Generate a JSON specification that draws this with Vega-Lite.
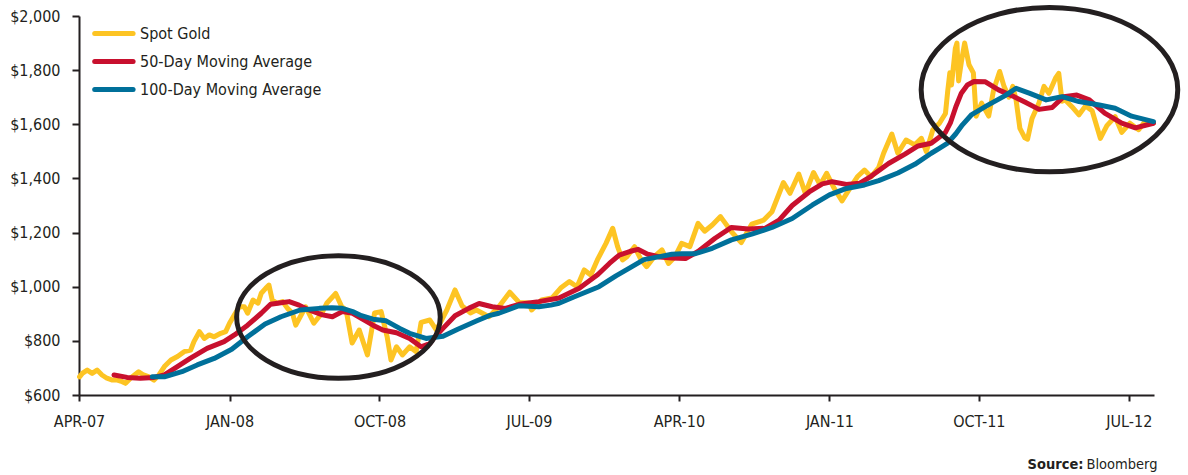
{
  "$schema": "https://vega.github.io/schema/vega-lite/v6.json",
  "width": 1075,
  "height": 379,
  "autosize": {"type": "none"},
  "padding": {"left": 79, "top": 16, "right": 34, "bottom": 80},
  "background": "white",
  "config": {
    "font": "Liberation Sans Narrow, DejaVu Sans Condensed, sans-serif",
    "view": {"stroke": null}
  },
  "datasets": {
    "prices": [
      {"series": "Spot Gold", "date": "2007-04-02", "price": 667},
      {"series": "Spot Gold", "date": "2007-04-07", "price": 680},
      {"series": "Spot Gold", "date": "2007-04-16", "price": 692},
      {"series": "Spot Gold", "date": "2007-04-25", "price": 680},
      {"series": "Spot Gold", "date": "2007-05-04", "price": 692},
      {"series": "Spot Gold", "date": "2007-05-13", "price": 674},
      {"series": "Spot Gold", "date": "2007-05-22", "price": 662},
      {"series": "Spot Gold", "date": "2007-06-01", "price": 655},
      {"series": "Spot Gold", "date": "2007-06-10", "price": 655},
      {"series": "Spot Gold", "date": "2007-06-19", "price": 649},
      {"series": "Spot Gold", "date": "2007-06-25", "price": 643},
      {"series": "Spot Gold", "date": "2007-07-04", "price": 662},
      {"series": "Spot Gold", "date": "2007-07-19", "price": 686},
      {"series": "Spot Gold", "date": "2007-07-28", "price": 674},
      {"series": "Spot Gold", "date": "2007-08-07", "price": 667},
      {"series": "Spot Gold", "date": "2007-08-16", "price": 655},
      {"series": "Spot Gold", "date": "2007-08-25", "price": 674},
      {"series": "Spot Gold", "date": "2007-09-04", "price": 705},
      {"series": "Spot Gold", "date": "2007-09-16", "price": 729},
      {"series": "Spot Gold", "date": "2007-09-28", "price": 742},
      {"series": "Spot Gold", "date": "2007-10-10", "price": 760},
      {"series": "Spot Gold", "date": "2007-10-22", "price": 766},
      {"series": "Spot Gold", "date": "2007-10-28", "price": 797},
      {"series": "Spot Gold", "date": "2007-11-07", "price": 834},
      {"series": "Spot Gold", "date": "2007-11-16", "price": 809},
      {"series": "Spot Gold", "date": "2007-11-25", "price": 822},
      {"series": "Spot Gold", "date": "2007-12-04", "price": 815},
      {"series": "Spot Gold", "date": "2007-12-16", "price": 828},
      {"series": "Spot Gold", "date": "2007-12-25", "price": 834},
      {"series": "Spot Gold", "date": "2008-01-01", "price": 865},
      {"series": "Spot Gold", "date": "2008-01-10", "price": 896},
      {"series": "Spot Gold", "date": "2008-01-19", "price": 926},
      {"series": "Spot Gold", "date": "2008-01-28", "price": 926},
      {"series": "Spot Gold", "date": "2008-02-03", "price": 902},
      {"series": "Spot Gold", "date": "2008-02-13", "price": 951},
      {"series": "Spot Gold", "date": "2008-02-22", "price": 939},
      {"series": "Spot Gold", "date": "2008-02-28", "price": 976},
      {"series": "Spot Gold", "date": "2008-03-07", "price": 994},
      {"series": "Spot Gold", "date": "2008-03-13", "price": 1006},
      {"series": "Spot Gold", "date": "2008-03-19", "price": 951},
      {"series": "Spot Gold", "date": "2008-03-28", "price": 939},
      {"series": "Spot Gold", "date": "2008-04-07", "price": 945},
      {"series": "Spot Gold", "date": "2008-04-16", "price": 920},
      {"series": "Spot Gold", "date": "2008-04-25", "price": 902},
      {"series": "Spot Gold", "date": "2008-05-01", "price": 858},
      {"series": "Spot Gold", "date": "2008-05-19", "price": 926},
      {"series": "Spot Gold", "date": "2008-06-03", "price": 865},
      {"series": "Spot Gold", "date": "2008-06-18", "price": 903},
      {"series": "Spot Gold", "date": "2008-06-27", "price": 940},
      {"series": "Spot Gold", "date": "2008-07-13", "price": 975},
      {"series": "Spot Gold", "date": "2008-07-24", "price": 926},
      {"series": "Spot Gold", "date": "2008-08-01", "price": 914},
      {"series": "Spot Gold", "date": "2008-08-12", "price": 792},
      {"series": "Spot Gold", "date": "2008-08-25", "price": 840},
      {"series": "Spot Gold", "date": "2008-09-09", "price": 748},
      {"series": "Spot Gold", "date": "2008-09-22", "price": 903},
      {"series": "Spot Gold", "date": "2008-10-04", "price": 908},
      {"series": "Spot Gold", "date": "2008-10-15", "price": 815},
      {"series": "Spot Gold", "date": "2008-10-22", "price": 729},
      {"series": "Spot Gold", "date": "2008-11-01", "price": 778},
      {"series": "Spot Gold", "date": "2008-11-12", "price": 748},
      {"series": "Spot Gold", "date": "2008-11-25", "price": 778},
      {"series": "Spot Gold", "date": "2008-12-07", "price": 760},
      {"series": "Spot Gold", "date": "2008-12-16", "price": 868},
      {"series": "Spot Gold", "date": "2009-01-01", "price": 877},
      {"series": "Spot Gold", "date": "2009-01-13", "price": 840},
      {"series": "Spot Gold", "date": "2009-02-01", "price": 914},
      {"series": "Spot Gold", "date": "2009-02-16", "price": 988},
      {"series": "Spot Gold", "date": "2009-03-01", "price": 929},
      {"series": "Spot Gold", "date": "2009-03-16", "price": 903},
      {"series": "Spot Gold", "date": "2009-03-27", "price": 914},
      {"series": "Spot Gold", "date": "2009-04-19", "price": 889},
      {"series": "Spot Gold", "date": "2009-05-07", "price": 926},
      {"series": "Spot Gold", "date": "2009-05-27", "price": 980},
      {"series": "Spot Gold", "date": "2009-06-13", "price": 942},
      {"series": "Spot Gold", "date": "2009-07-01", "price": 940},
      {"series": "Spot Gold", "date": "2009-07-06", "price": 914},
      {"series": "Spot Gold", "date": "2009-07-24", "price": 951},
      {"series": "Spot Gold", "date": "2009-08-12", "price": 958},
      {"series": "Spot Gold", "date": "2009-08-28", "price": 995},
      {"series": "Spot Gold", "date": "2009-09-13", "price": 1019},
      {"series": "Spot Gold", "date": "2009-09-27", "price": 1000},
      {"series": "Spot Gold", "date": "2009-10-10", "price": 1062},
      {"series": "Spot Gold", "date": "2009-10-22", "price": 1043},
      {"series": "Spot Gold", "date": "2009-11-03", "price": 1099},
      {"series": "Spot Gold", "date": "2009-11-19", "price": 1161},
      {"series": "Spot Gold", "date": "2009-12-01", "price": 1216},
      {"series": "Spot Gold", "date": "2009-12-10", "price": 1148},
      {"series": "Spot Gold", "date": "2009-12-19", "price": 1099},
      {"series": "Spot Gold", "date": "2009-12-27", "price": 1111},
      {"series": "Spot Gold", "date": "2010-01-10", "price": 1148},
      {"series": "Spot Gold", "date": "2010-01-22", "price": 1099},
      {"series": "Spot Gold", "date": "2010-02-01", "price": 1074},
      {"series": "Spot Gold", "date": "2010-02-15", "price": 1111},
      {"series": "Spot Gold", "date": "2010-03-01", "price": 1136},
      {"series": "Spot Gold", "date": "2010-03-13", "price": 1086},
      {"series": "Spot Gold", "date": "2010-03-25", "price": 1111},
      {"series": "Spot Gold", "date": "2010-04-06", "price": 1160},
      {"series": "Spot Gold", "date": "2010-04-21", "price": 1148},
      {"series": "Spot Gold", "date": "2010-05-06", "price": 1234},
      {"series": "Spot Gold", "date": "2010-05-18", "price": 1205},
      {"series": "Spot Gold", "date": "2010-06-01", "price": 1228},
      {"series": "Spot Gold", "date": "2010-06-16", "price": 1259},
      {"series": "Spot Gold", "date": "2010-06-25", "price": 1234},
      {"series": "Spot Gold", "date": "2010-07-06", "price": 1203},
      {"series": "Spot Gold", "date": "2010-07-24", "price": 1163},
      {"series": "Spot Gold", "date": "2010-08-12", "price": 1231},
      {"series": "Spot Gold", "date": "2010-09-03", "price": 1246},
      {"series": "Spot Gold", "date": "2010-09-18", "price": 1277},
      {"series": "Spot Gold", "date": "2010-10-09", "price": 1385},
      {"series": "Spot Gold", "date": "2010-10-21", "price": 1345},
      {"series": "Spot Gold", "date": "2010-11-06", "price": 1416},
      {"series": "Spot Gold", "date": "2010-11-18", "price": 1345},
      {"series": "Spot Gold", "date": "2010-12-03", "price": 1422},
      {"series": "Spot Gold", "date": "2010-12-15", "price": 1376},
      {"series": "Spot Gold", "date": "2010-12-27", "price": 1419},
      {"series": "Spot Gold", "date": "2011-01-09", "price": 1366},
      {"series": "Spot Gold", "date": "2011-01-24", "price": 1317},
      {"series": "Spot Gold", "date": "2011-02-09", "price": 1369},
      {"series": "Spot Gold", "date": "2011-02-21", "price": 1406},
      {"series": "Spot Gold", "date": "2011-03-06", "price": 1431},
      {"series": "Spot Gold", "date": "2011-03-18", "price": 1406},
      {"series": "Spot Gold", "date": "2011-04-01", "price": 1440},
      {"series": "Spot Gold", "date": "2011-04-10", "price": 1493},
      {"series": "Spot Gold", "date": "2011-04-25", "price": 1564},
      {"series": "Spot Gold", "date": "2011-05-06", "price": 1493},
      {"series": "Spot Gold", "date": "2011-05-21", "price": 1542},
      {"series": "Spot Gold", "date": "2011-06-06", "price": 1524},
      {"series": "Spot Gold", "date": "2011-06-18", "price": 1548},
      {"series": "Spot Gold", "date": "2011-06-27", "price": 1499},
      {"series": "Spot Gold", "date": "2011-07-09", "price": 1580},
      {"series": "Spot Gold", "date": "2011-07-21", "price": 1604},
      {"series": "Spot Gold", "date": "2011-08-01", "price": 1640},
      {"series": "Spot Gold", "date": "2011-08-05", "price": 1720},
      {"series": "Spot Gold", "date": "2011-08-09", "price": 1790},
      {"series": "Spot Gold", "date": "2011-08-12", "price": 1745},
      {"series": "Spot Gold", "date": "2011-08-19", "price": 1880},
      {"series": "Spot Gold", "date": "2011-08-22", "price": 1900},
      {"series": "Spot Gold", "date": "2011-08-25", "price": 1760},
      {"series": "Spot Gold", "date": "2011-08-30", "price": 1830},
      {"series": "Spot Gold", "date": "2011-09-05", "price": 1900},
      {"series": "Spot Gold", "date": "2011-09-13", "price": 1820},
      {"series": "Spot Gold", "date": "2011-09-21", "price": 1790},
      {"series": "Spot Gold", "date": "2011-09-26", "price": 1630},
      {"series": "Spot Gold", "date": "2011-10-06", "price": 1678},
      {"series": "Spot Gold", "date": "2011-10-19", "price": 1630},
      {"series": "Spot Gold", "date": "2011-10-28", "price": 1727},
      {"series": "Spot Gold", "date": "2011-11-08", "price": 1795},
      {"series": "Spot Gold", "date": "2011-11-16", "price": 1740},
      {"series": "Spot Gold", "date": "2011-11-25", "price": 1700},
      {"series": "Spot Gold", "date": "2011-12-02", "price": 1740},
      {"series": "Spot Gold", "date": "2011-12-08", "price": 1690},
      {"series": "Spot Gold", "date": "2011-12-15", "price": 1585},
      {"series": "Spot Gold", "date": "2011-12-24", "price": 1550},
      {"series": "Spot Gold", "date": "2011-12-29", "price": 1545},
      {"series": "Spot Gold", "date": "2012-01-06", "price": 1620},
      {"series": "Spot Gold", "date": "2012-01-19", "price": 1680},
      {"series": "Spot Gold", "date": "2012-01-28", "price": 1740},
      {"series": "Spot Gold", "date": "2012-02-06", "price": 1715},
      {"series": "Spot Gold", "date": "2012-02-18", "price": 1770},
      {"series": "Spot Gold", "date": "2012-02-24", "price": 1788},
      {"series": "Spot Gold", "date": "2012-03-01", "price": 1685},
      {"series": "Spot Gold", "date": "2012-03-07", "price": 1690},
      {"series": "Spot Gold", "date": "2012-03-19", "price": 1665},
      {"series": "Spot Gold", "date": "2012-04-01", "price": 1635},
      {"series": "Spot Gold", "date": "2012-04-13", "price": 1668},
      {"series": "Spot Gold", "date": "2012-04-25", "price": 1650},
      {"series": "Spot Gold", "date": "2012-05-10", "price": 1548},
      {"series": "Spot Gold", "date": "2012-05-22", "price": 1595},
      {"series": "Spot Gold", "date": "2012-06-06", "price": 1628},
      {"series": "Spot Gold", "date": "2012-06-18", "price": 1570},
      {"series": "Spot Gold", "date": "2012-07-03", "price": 1604},
      {"series": "Spot Gold", "date": "2012-07-19", "price": 1580},
      {"series": "Spot Gold", "date": "2012-08-01", "price": 1614},
      {"series": "Spot Gold", "date": "2012-08-15", "price": 1605},

      {"series": "50-Day Moving Average", "date": "2007-06-04", "price": 674},
      {"series": "50-Day Moving Average", "date": "2007-06-28", "price": 665},
      {"series": "50-Day Moving Average", "date": "2007-07-22", "price": 662},
      {"series": "50-Day Moving Average", "date": "2007-08-16", "price": 665},
      {"series": "50-Day Moving Average", "date": "2007-09-04", "price": 674},
      {"series": "50-Day Moving Average", "date": "2007-09-27", "price": 704},
      {"series": "50-Day Moving Average", "date": "2007-10-21", "price": 735},
      {"series": "50-Day Moving Average", "date": "2007-11-21", "price": 772},
      {"series": "50-Day Moving Average", "date": "2007-12-22", "price": 797},
      {"series": "50-Day Moving Average", "date": "2008-01-10", "price": 822},
      {"series": "50-Day Moving Average", "date": "2008-02-03", "price": 858},
      {"series": "50-Day Moving Average", "date": "2008-02-28", "price": 902},
      {"series": "50-Day Moving Average", "date": "2008-03-16", "price": 935},
      {"series": "50-Day Moving Average", "date": "2008-04-01", "price": 940},
      {"series": "50-Day Moving Average", "date": "2008-04-19", "price": 945},
      {"series": "50-Day Moving Average", "date": "2008-05-07", "price": 932},
      {"series": "50-Day Moving Average", "date": "2008-05-25", "price": 914},
      {"series": "50-Day Moving Average", "date": "2008-06-19", "price": 896},
      {"series": "50-Day Moving Average", "date": "2008-07-07", "price": 889},
      {"series": "50-Day Moving Average", "date": "2008-07-25", "price": 908},
      {"series": "50-Day Moving Average", "date": "2008-08-13", "price": 902},
      {"series": "50-Day Moving Average", "date": "2008-08-31", "price": 880},
      {"series": "50-Day Moving Average", "date": "2008-09-19", "price": 858},
      {"series": "50-Day Moving Average", "date": "2008-10-07", "price": 840},
      {"series": "50-Day Moving Average", "date": "2008-11-01", "price": 830},
      {"series": "50-Day Moving Average", "date": "2008-11-25", "price": 809},
      {"series": "50-Day Moving Average", "date": "2008-12-16", "price": 778},
      {"series": "50-Day Moving Average", "date": "2009-01-01", "price": 790},
      {"series": "50-Day Moving Average", "date": "2009-01-06", "price": 805},
      {"series": "50-Day Moving Average", "date": "2009-01-25", "price": 846},
      {"series": "50-Day Moving Average", "date": "2009-02-16", "price": 893},
      {"series": "50-Day Moving Average", "date": "2009-03-13", "price": 920},
      {"series": "50-Day Moving Average", "date": "2009-04-01", "price": 938},
      {"series": "50-Day Moving Average", "date": "2009-04-25", "price": 926},
      {"series": "50-Day Moving Average", "date": "2009-05-19", "price": 920},
      {"series": "50-Day Moving Average", "date": "2009-06-13", "price": 935},
      {"series": "50-Day Moving Average", "date": "2009-07-19", "price": 945},
      {"series": "50-Day Moving Average", "date": "2009-08-25", "price": 958},
      {"series": "50-Day Moving Average", "date": "2009-10-01", "price": 994},
      {"series": "50-Day Moving Average", "date": "2009-11-04", "price": 1045},
      {"series": "50-Day Moving Average", "date": "2009-11-25", "price": 1086},
      {"series": "50-Day Moving Average", "date": "2009-12-13", "price": 1117},
      {"series": "50-Day Moving Average", "date": "2010-01-01", "price": 1130},
      {"series": "50-Day Moving Average", "date": "2010-01-16", "price": 1138},
      {"series": "50-Day Moving Average", "date": "2010-02-03", "price": 1120},
      {"series": "50-Day Moving Average", "date": "2010-02-25", "price": 1110},
      {"series": "50-Day Moving Average", "date": "2010-03-19", "price": 1106},
      {"series": "50-Day Moving Average", "date": "2010-04-13", "price": 1104},
      {"series": "50-Day Moving Average", "date": "2010-05-06", "price": 1130},
      {"series": "50-Day Moving Average", "date": "2010-06-06", "price": 1179},
      {"series": "50-Day Moving Average", "date": "2010-07-06", "price": 1219},
      {"series": "50-Day Moving Average", "date": "2010-08-06", "price": 1213},
      {"series": "50-Day Moving Average", "date": "2010-09-06", "price": 1216},
      {"series": "50-Day Moving Average", "date": "2010-10-01", "price": 1246},
      {"series": "50-Day Moving Average", "date": "2010-10-25", "price": 1300},
      {"series": "50-Day Moving Average", "date": "2010-11-25", "price": 1350},
      {"series": "50-Day Moving Average", "date": "2010-12-19", "price": 1380},
      {"series": "50-Day Moving Average", "date": "2011-01-06", "price": 1388},
      {"series": "50-Day Moving Average", "date": "2011-02-01", "price": 1378},
      {"series": "50-Day Moving Average", "date": "2011-02-25", "price": 1382},
      {"series": "50-Day Moving Average", "date": "2011-03-18", "price": 1408},
      {"series": "50-Day Moving Average", "date": "2011-04-19", "price": 1455},
      {"series": "50-Day Moving Average", "date": "2011-05-19", "price": 1490},
      {"series": "50-Day Moving Average", "date": "2011-06-12", "price": 1520},
      {"series": "50-Day Moving Average", "date": "2011-07-06", "price": 1530},
      {"series": "50-Day Moving Average", "date": "2011-08-01", "price": 1570},
      {"series": "50-Day Moving Average", "date": "2011-08-10", "price": 1605},
      {"series": "50-Day Moving Average", "date": "2011-08-20", "price": 1665},
      {"series": "50-Day Moving Average", "date": "2011-08-30", "price": 1715},
      {"series": "50-Day Moving Average", "date": "2011-09-10", "price": 1745},
      {"series": "50-Day Moving Average", "date": "2011-09-22", "price": 1758},
      {"series": "50-Day Moving Average", "date": "2011-10-13", "price": 1757},
      {"series": "50-Day Moving Average", "date": "2011-11-06", "price": 1727},
      {"series": "50-Day Moving Average", "date": "2011-12-01", "price": 1705},
      {"series": "50-Day Moving Average", "date": "2011-12-24", "price": 1682},
      {"series": "50-Day Moving Average", "date": "2012-01-19", "price": 1655},
      {"series": "50-Day Moving Average", "date": "2012-02-12", "price": 1662},
      {"series": "50-Day Moving Average", "date": "2012-03-04", "price": 1702},
      {"series": "50-Day Moving Average", "date": "2012-03-28", "price": 1708},
      {"series": "50-Day Moving Average", "date": "2012-04-20", "price": 1690},
      {"series": "50-Day Moving Average", "date": "2012-05-18", "price": 1641},
      {"series": "50-Day Moving Average", "date": "2012-06-18", "price": 1604},
      {"series": "50-Day Moving Average", "date": "2012-07-13", "price": 1587},
      {"series": "50-Day Moving Average", "date": "2012-08-15", "price": 1604},

      {"series": "100-Day Moving Average", "date": "2007-08-13", "price": 667},
      {"series": "100-Day Moving Average", "date": "2007-09-04", "price": 667},
      {"series": "100-Day Moving Average", "date": "2007-10-06", "price": 686},
      {"series": "100-Day Moving Average", "date": "2007-11-03", "price": 711},
      {"series": "100-Day Moving Average", "date": "2007-12-04", "price": 735},
      {"series": "100-Day Moving Average", "date": "2008-01-05", "price": 769},
      {"series": "100-Day Moving Average", "date": "2008-02-03", "price": 815},
      {"series": "100-Day Moving Average", "date": "2008-03-06", "price": 862},
      {"series": "100-Day Moving Average", "date": "2008-04-04", "price": 889},
      {"series": "100-Day Moving Average", "date": "2008-05-09", "price": 914},
      {"series": "100-Day Moving Average", "date": "2008-06-13", "price": 920},
      {"series": "100-Day Moving Average", "date": "2008-07-06", "price": 922},
      {"series": "100-Day Moving Average", "date": "2008-07-25", "price": 920},
      {"series": "100-Day Moving Average", "date": "2008-08-13", "price": 908},
      {"series": "100-Day Moving Average", "date": "2008-08-29", "price": 893},
      {"series": "100-Day Moving Average", "date": "2008-09-19", "price": 880},
      {"series": "100-Day Moving Average", "date": "2008-10-13", "price": 874},
      {"series": "100-Day Moving Average", "date": "2008-11-07", "price": 846},
      {"series": "100-Day Moving Average", "date": "2008-11-25", "price": 828},
      {"series": "100-Day Moving Average", "date": "2008-12-25", "price": 809},
      {"series": "100-Day Moving Average", "date": "2009-01-25", "price": 817},
      {"series": "100-Day Moving Average", "date": "2009-02-21", "price": 843},
      {"series": "100-Day Moving Average", "date": "2009-03-28", "price": 874},
      {"series": "100-Day Moving Average", "date": "2009-04-19", "price": 893},
      {"series": "100-Day Moving Average", "date": "2009-05-07", "price": 902},
      {"series": "100-Day Moving Average", "date": "2009-06-13", "price": 930},
      {"series": "100-Day Moving Average", "date": "2009-07-19", "price": 926},
      {"series": "100-Day Moving Average", "date": "2009-08-10", "price": 932},
      {"series": "100-Day Moving Average", "date": "2009-08-25", "price": 939},
      {"series": "100-Day Moving Average", "date": "2009-09-21", "price": 962},
      {"series": "100-Day Moving Average", "date": "2009-11-06", "price": 1000},
      {"series": "100-Day Moving Average", "date": "2009-12-07", "price": 1040},
      {"series": "100-Day Moving Average", "date": "2010-01-06", "price": 1075},
      {"series": "100-Day Moving Average", "date": "2010-01-27", "price": 1100},
      {"series": "100-Day Moving Average", "date": "2010-02-25", "price": 1111},
      {"series": "100-Day Moving Average", "date": "2010-03-19", "price": 1120},
      {"series": "100-Day Moving Average", "date": "2010-04-06", "price": 1122},
      {"series": "100-Day Moving Average", "date": "2010-05-01", "price": 1122},
      {"series": "100-Day Moving Average", "date": "2010-06-01", "price": 1142},
      {"series": "100-Day Moving Average", "date": "2010-07-06", "price": 1173},
      {"series": "100-Day Moving Average", "date": "2010-08-12", "price": 1194},
      {"series": "100-Day Moving Average", "date": "2010-09-18", "price": 1219},
      {"series": "100-Day Moving Average", "date": "2010-10-25", "price": 1252},
      {"series": "100-Day Moving Average", "date": "2010-12-01", "price": 1302},
      {"series": "100-Day Moving Average", "date": "2011-01-01", "price": 1339},
      {"series": "100-Day Moving Average", "date": "2011-02-01", "price": 1363},
      {"series": "100-Day Moving Average", "date": "2011-03-06", "price": 1376},
      {"series": "100-Day Moving Average", "date": "2011-04-01", "price": 1392},
      {"series": "100-Day Moving Average", "date": "2011-05-06", "price": 1420},
      {"series": "100-Day Moving Average", "date": "2011-06-06", "price": 1452},
      {"series": "100-Day Moving Average", "date": "2011-07-06", "price": 1493},
      {"series": "100-Day Moving Average", "date": "2011-07-20", "price": 1510},
      {"series": "100-Day Moving Average", "date": "2011-08-05", "price": 1530},
      {"series": "100-Day Moving Average", "date": "2011-08-20", "price": 1565},
      {"series": "100-Day Moving Average", "date": "2011-09-01", "price": 1598},
      {"series": "100-Day Moving Average", "date": "2011-09-18", "price": 1636},
      {"series": "100-Day Moving Average", "date": "2011-10-15", "price": 1668},
      {"series": "100-Day Moving Average", "date": "2011-11-18", "price": 1706},
      {"series": "100-Day Moving Average", "date": "2011-12-08", "price": 1733},
      {"series": "100-Day Moving Average", "date": "2012-01-01", "price": 1715},
      {"series": "100-Day Moving Average", "date": "2012-02-01", "price": 1690},
      {"series": "100-Day Moving Average", "date": "2012-03-01", "price": 1702},
      {"series": "100-Day Moving Average", "date": "2012-04-01", "price": 1684},
      {"series": "100-Day Moving Average", "date": "2012-05-08", "price": 1671},
      {"series": "100-Day Moving Average", "date": "2012-06-06", "price": 1659},
      {"series": "100-Day Moving Average", "date": "2012-07-06", "price": 1630},
      {"series": "100-Day Moving Average", "date": "2012-08-15", "price": 1610}
    ],
    "rings": [
      {"ring": "2008", "date": "2008-07-18", "price": 888},
      {"ring": "2011", "date": "2012-02-07", "price": 1728}
    ]
  },
  "encoding": {
    "x": {
      "field": "date",
      "type": "temporal",
      "scale": {
        "type": "utc",
        "domain": [
          {"year": 2007, "month": 4, "date": 1, "utc": true},
          {"year": 2012, "month": 8, "date": 16, "utc": true}
        ]
      },
      "axis": {
        "values": [
          {"year": 2007, "month": 4, "date": 1, "utc": true},
          {"year": 2008, "month": 1, "date": 1, "utc": true},
          {"year": 2008, "month": 10, "date": 1, "utc": true},
          {"year": 2009, "month": 7, "date": 1, "utc": true},
          {"year": 2010, "month": 4, "date": 1, "utc": true},
          {"year": 2011, "month": 1, "date": 1, "utc": true},
          {"year": 2011, "month": 10, "date": 1, "utc": true},
          {"year": 2012, "month": 7, "date": 1, "utc": true}
        ],
        "labelExpr": "upper(utcFormat(datum.value, '%b-%y'))",
        "grid": false,
        "domainColor": "#231f20",
        "domainWidth": 2,
        "tickColor": "#231f20",
        "tickWidth": 2,
        "tickSize": 6,
        "labelFontSize": 16,
        "labelColor": "#231f20",
        "labelPadding": 12,
        "labelFlush": false,
        "labelOverlap": false,
        "title": "Bloomberg",
        "titleX": 1078,
        "titleY": 73,
        "titleAlign": "right",
        "titleBaseline": "alphabetic",
        "titleFontWeight": "normal",
        "titleFontSize": 14.5,
        "titleColor": "#231f20"
      }
    },
    "y": {
      "field": "price",
      "type": "quantitative",
      "scale": {"domain": [600, 2000], "nice": false, "zero": false},
      "axis": {
        "values": [600, 800, 1000, 1200, 1400, 1600, 1800, 2000],
        "format": "$,.0f",
        "grid": false,
        "domainColor": "#231f20",
        "domainWidth": 2,
        "tickColor": "#231f20",
        "tickWidth": 2,
        "tickSize": 7,
        "labelFontSize": 16,
        "labelColor": "#231f20",
        "labelPadding": 12,
        "labelFlush": false,
        "labelOverlap": false,
        "title": "Source:",
        "titleAngle": 0,
        "titleX": 1004,
        "titleY": 452,
        "titleAlign": "right",
        "titleBaseline": "alphabetic",
        "titleFontWeight": "bold",
        "titleFontSize": 14.5,
        "titleColor": "#231f20"
      }
    }
  },
  "layer": [
    {
      "data": {"name": "prices"},
      "transform": [{"filter": "datum.series === 'Spot Gold'"}],
      "mark": {"type": "line", "strokeWidth": 5, "strokeJoin": "round", "strokeCap": "round"},
      "encoding": {
        "color": {
          "field": "series",
          "type": "nominal",
          "scale": {
            "domain": ["Spot Gold", "50-Day Moving Average", "100-Day Moving Average"],
            "range": ["#FDC423", "#C8102E", "#00709A"]
          },
          "legend": {
            "title": null,
            "orient": "none",
            "legendX": 26.4,
            "legendY": 9,
            "direction": "vertical",
            "padding": 0,
            "symbolType": "M-3.2,0H3.2",
            "symbolSize": 144,
            "symbolStrokeWidth": 5,
            "symbolOffset": 0,
            "labelFontSize": 16,
            "labelColor": "#231f20",
            "labelOffset": 17.6,
            "labelLimit": 0,
            "rowPadding": 7,
            "encode": {"symbols": {"update": {"strokeCap": {"value": "round"}}}}
          }
        }
      }
    },
    {
      "data": {"name": "prices"},
      "transform": [{"filter": "datum.series === '50-Day Moving Average'"}],
      "mark": {"type": "line", "strokeWidth": 5, "strokeJoin": "round", "strokeCap": "round"},
      "encoding": {"color": {"field": "series", "type": "nominal"}}
    },
    {
      "data": {"name": "prices"},
      "transform": [{"filter": "datum.series === '100-Day Moving Average'"}],
      "mark": {"type": "line", "strokeWidth": 5, "strokeJoin": "round", "strokeCap": "round"},
      "encoding": {"color": {"field": "series", "type": "nominal"}}
    },
    {
      "data": {"name": "rings"},
      "transform": [{"filter": "datum.ring === '2008'"}],
      "mark": {
        "type": "point",
        "shape": "M1,0C1,0.3325,0.5523,0.602,0,0.602C-0.5523,0.602,-1,0.3325,-1,0C-1,-0.3325,-0.5523,-0.602,0,-0.602C0.5523,-0.602,1,-0.3325,1,0Z",
        "size": 41452,
        "filled": false,
        "stroke": "#231f20",
        "strokeWidth": 5,
        "opacity": 1
      }
    },
    {
      "data": {"name": "rings"},
      "transform": [{"filter": "datum.ring === '2011'"}],
      "mark": {
        "type": "point",
        "shape": "M1,0C1,0.354,0.5523,0.641,0,0.641C-0.5523,0.641,-1,0.354,-1,0C-1,-0.354,-0.5523,-0.641,0,-0.641C0.5523,-0.641,1,-0.354,1,0Z",
        "size": 65843,
        "filled": false,
        "stroke": "#231f20",
        "strokeWidth": 5,
        "opacity": 1
      }
    }
  ]
}
